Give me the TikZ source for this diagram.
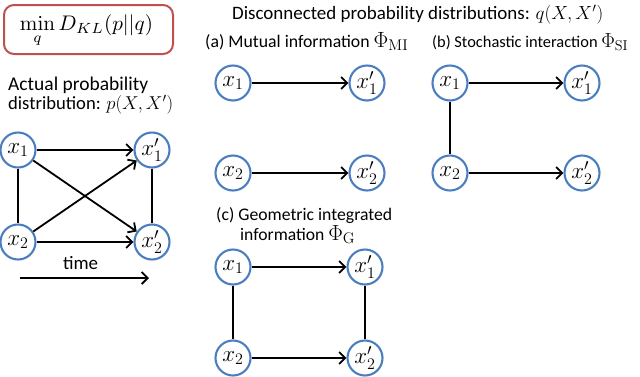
\RequirePackage{fix-cm}
\documentclass[tikz,border=0pt]{standalone}
\usepackage[no-math]{fontspec}
\usepackage{graphicx}
\newfontfamily\calib{Carlito}
\usetikzlibrary{arrows.meta}
\definecolor{nodeblue}{RGB}{74,126,193}
\definecolor{boxred}{RGB}{192,80,77}
\tikzset{
  var/.style={circle,draw=nodeblue,line width=2.1pt,fill=white,minimum size=35pt,inner sep=0pt,font=\fontsize{23}{24}\selectfont},
  arr/.style={line width=1.8pt,-{Straight Barb[length=6pt,width=12pt]}},
  lnk/.style={line width=1.8pt},
  lbl/.style={font=\calib\fontsize{18.5}{21}\selectfont,inner sep=0pt},
}
\newcommand{\mfs}[1]{\fontsize{#1}{#1}\selectfont}
\newcommand{\fitw}[2]{\resizebox{#1pt}{!}{#2}}
\begin{document}
\begin{tikzpicture}[x=1pt,y=-1pt]
\useasboundingbox (0,0) rectangle (640,376);
% KL box
\node[draw=boxred,line width=2pt,rounded corners=10pt,minimum width=169pt,minimum height=49pt,inner sep=0pt] (kl) at (88.5,29.5) {};
\node[inner sep=0pt] (kltext) at (86.5,31) {\fitw{133}{$\displaystyle\min_q D_{KL}(p||q)$}};
\node[lbl,anchor=base west] (actual1) at (8,90) {\fitw{140}{Actual probability}};
\node[lbl,anchor=base west] (actual2) at (8,109) {\fitw{165}{distribution: \mfs{18.5}$p(X,X')$}};
% left graph
\node[var] (a1) at (18,150) {$x_1$};
\node[var] (b1) at (152,150) {$x_1'$};
\node[var] (a2) at (18,242) {$x_2$};
\node[var] (b2) at (152,242) {$x_2'$};
\draw[arr] (a1) -- (b1);
\draw[arr] (a2) -- (b2);
\draw[arr] (a1) -- (b2);
\draw[arr] (a2) -- (b1);
\draw[lnk] (a1) -- (a2);
\draw[lnk] (b1) -- (b2);
\node[lbl] (time) at (80.5,263) {\fitw{35}{time}};
\coordinate (t0) at (20,278);
\coordinate (t1) at (149,278);
\draw[arr] (t0) -- (t1);
% titles
\node[lbl,anchor=base west] (title) at (232,19.5) {\fitw{371}{Disconnected probability distributions: \mfs{18.5}$q(X,X')$}};
\node[lbl,anchor=base west] (ta) at (205,47) {\fitw{203}{(a) Mutual information \mfs{23}$\Phi_{\mathrm{MI}}$}};
\node[lbl,anchor=base west] (tb) at (432,47) {\fitw{196}{(b) Stochastic interaction \mfs{23}$\Phi_{\mathrm{SI}}$}};
\node[lbl,anchor=base west] (tc1) at (216,220) {\fitw{176}{(c) Geometric integrated}};
\node[lbl,anchor=base west] (tc2) at (240,240) {\fitw{115}{information \mfs{23}$\Phi_{\mathrm{G}}$}};
% (a)
\node[var] (ma1) at (233,83) {$x_1$};
\node[var] (mb1) at (367,83) {$x_1'$};
\node[var] (ma2) at (233,173) {$x_2$};
\node[var] (mb2) at (367,173) {$x_2'$};
\draw[arr] (ma1) -- (mb1);
\draw[arr] (ma2) -- (mb2);
% (b)
\node[var] (sa1) at (450,83) {$x_1$};
\node[var] (sb1) at (582,83) {$x_1'$};
\node[var] (sa2) at (450,173) {$x_2$};
\node[var] (sb2) at (582,173) {$x_2'$};
\draw[arr] (sa1) -- (sb1);
\draw[arr] (sa2) -- (sb2);
\draw[lnk] (sa1) -- (sa2);
% (c)
\node[var] (ga1) at (233,267) {$x_1$};
\node[var] (gb1) at (365,267) {$x_1'$};
\node[var] (ga2) at (233,358) {$x_2$};
\node[var] (gb2) at (365,358) {$x_2'$};
\draw[arr] (ga1) -- (gb1);
\draw[arr] (ga2) -- (gb2);
\draw[lnk] (ga1) -- (ga2);
\draw[lnk] (gb1) -- (gb2);
\end{tikzpicture}
\end{document}
